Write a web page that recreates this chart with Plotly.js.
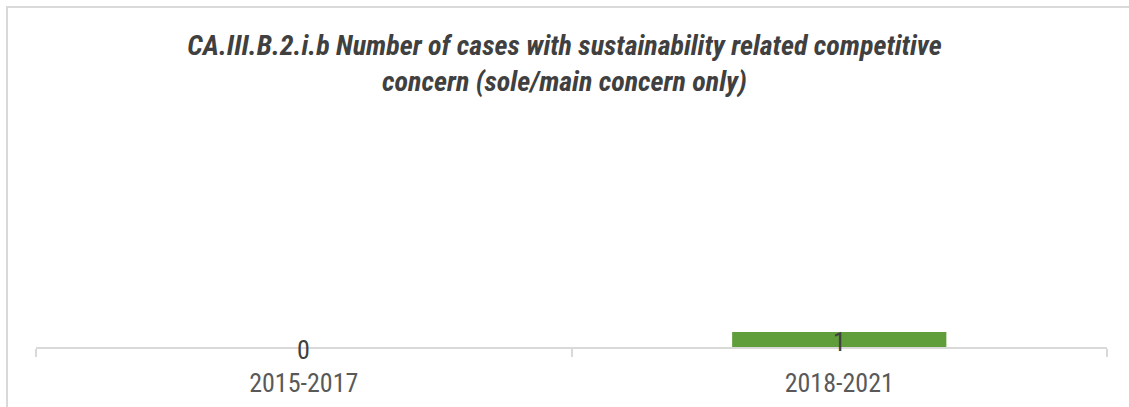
<!DOCTYPE html>
<html>
<head>
<meta charset="utf-8">
<script src="https://cdn.plot.ly/plotly-3.0.1.min.js"></script>
<style>
html,body{margin:0;padding:0;background:#fff;overflow:hidden;}
#frame{position:absolute;left:6px;top:6px;width:1200px;height:500px;border:2px solid #d9d9d9;box-sizing:border-box;}
#chart{position:absolute;left:0;top:0;width:1129px;height:407px;}
</style>
</head>
<body>
<div id="frame"></div>
<div id="chart"></div>
<script>
const categories = ["2015-2017", "2018-2021"];
const values = [0, 1];
const chartTitle = "CA.III.B.2.i.b Number of cases with sustainability related competitive<br>concern (sole/main concern only)";

const narrow = '"Liberation Sans Narrow", "Arial Narrow", "Roboto Condensed", Roboto, sans-serif';

const bars = {
  type: 'bar',
  x: categories,
  y: values,
  width: 0.4,
  marker: {color: '#5f9e3b', line: {width: 0}},
  hoverinfo: 'skip',
  showlegend: false
};

const valueLabels = categories.map((c, i) => ({
  x: c,
  y: values[i] / 2,
  xref: 'x', yref: 'y',
  text: String(values[i]),
  showarrow: false,
  xanchor: 'center', yanchor: 'middle',
  yshift: -3,
  font: {family: narrow, size: 26, color: '#404040'}
}));

const layout = {
  width: 1129,
  height: 407,
  margin: {l: 36, r: 22, t: 120, b: 60},
  paper_bgcolor: 'rgba(0,0,0,0)',
  plot_bgcolor: 'rgba(0,0,0,0)',
  title: {
    text: '<b><i>' + chartTitle + '</i></b>',
    font: {family: narrow, size: 28, color: '#404040'},
    x: 0.5, xanchor: 'center',
    y: 1 - 55 / 407, yanchor: 'middle', yref: 'container'
  },
  annotations: valueLabels,
  xaxis: {
    type: 'category',
    showline: true, linecolor: '#d9d9d9', linewidth: 2,
    ticks: 'outside', tickson: 'boundaries', ticklen: 8, tickcolor: '#d9d9d9', tickwidth: 2,
    ticklabelstandoff: 12,
    tickfont: {family: narrow, size: 26, color: '#595959'},
    showgrid: false, zeroline: false,
    fixedrange: true
  },
  yaxis: {
    range: [0, 15.1],
    visible: false,
    showgrid: false, zeroline: false,
    fixedrange: true
  },
  bargap: 0.6
};

Plotly.newPlot('chart', [bars], layout, {displayModeBar: false, staticPlot: true});
</script>
</body>
</html>
